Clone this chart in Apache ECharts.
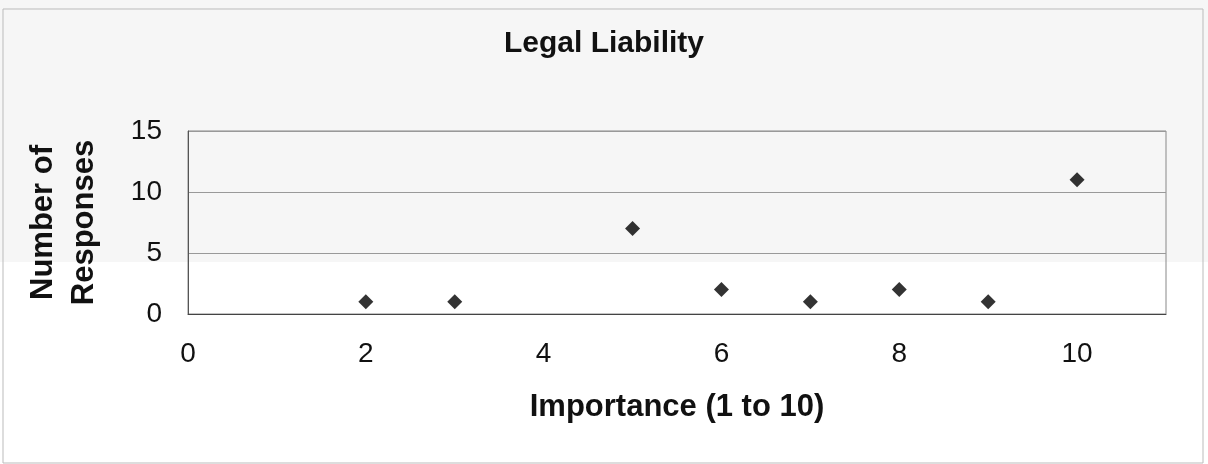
<!DOCTYPE html>
<html>
<head>
<meta charset="utf-8">
<script src="https://cdn.jsdelivr.net/npm/echarts@6/dist/echarts.min.js"></script>
<style>html,body{margin:0;padding:0;background:#fff}#c{width:1208px;height:464px}</style>
</head>
<body>
<div id="c"></div>
<script>
const titleText = 'Legal Liability';
const xName = 'Importance (1 to 10)';
const yName = 'Number of\nResponses';
const importance = [2, 3, 5, 6, 7, 8, 9, 10];
const responses = [1, 1, 7, 2, 1, 2, 1, 11];

const points = importance.map((x, i) => [x, responses[i]]);
const font = 'Liberation Sans, Arial, sans-serif';
const chart = echarts.init(document.getElementById('c'));
chart.setOption({
  backgroundColor: '#f6f6f6',
  animation: false,
  graphic: [
    { type: 'rect', z: -10, silent: true, shape: { x: 0, y: 262, width: 1208, height: 202 }, style: { fill: '#ffffff' } },
    { type: 'rect', z: -9, silent: true, shape: { x: 3, y: 9, width: 1200, height: 454 }, style: { fill: 'none', stroke: '#bbbbbb', lineWidth: 1 } }
  ],
  title: {
    text: titleText, left: 'center', top: 24,
    textStyle: { fontFamily: font, fontSize: 30, fontWeight: 'bold', color: '#111' }
  },
  grid: { left: 188, top: 131, right: 42, bottom: 150, show: true, backgroundColor: 'transparent', borderColor: '#888', borderWidth: 1 },
  xAxis: {
    type: 'value', min: 0, max: 11, interval: 2,
    name: xName, nameLocation: 'middle', nameGap: 78,
    nameTextStyle: { fontFamily: font, fontSize: 31, fontWeight: 'bold', color: '#111' },
    axisLine: { show: true, lineStyle: { color: '#444' } },
    axisTick: { show: false },
    splitLine: { show: false },
    axisLabel: { fontFamily: font, fontSize: 28, color: '#111', margin: 26,
      formatter: v => (v % 2 === 0 && v <= 10) ? String(v) : '' }
  },
  yAxis: {
    type: 'value', min: 0, max: 15, interval: 5,
    name: yName, nameLocation: 'middle', nameGap: 83, nameRotate: 90,
    nameTextStyle: { fontFamily: font, fontSize: 31, fontWeight: 'bold', color: '#111', lineHeight: 41 },
    axisLine: { show: true, lineStyle: { color: '#555' } },
    axisTick: { show: false },
    splitLine: { show: true, lineStyle: { color: '#999', width: 1 } },
    axisLabel: { fontFamily: font, fontSize: 28, color: '#111', margin: 26 }
  },
  series: [{
    type: 'scatter', data: points, symbol: 'diamond', symbolSize: 15,
    itemStyle: { color: '#000' }
  }]
});
</script>
</body>
</html>
